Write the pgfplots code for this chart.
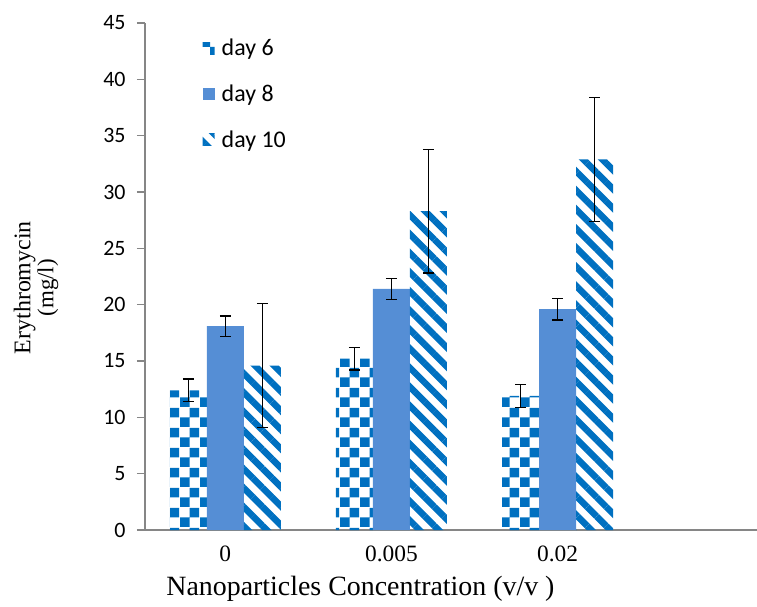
\documentclass[border=0pt]{standalone}
\usepackage{pgfplots}
\pgfplotsset{compat=1.18}
\usepackage{fontspec}
\setmainfont{Liberation Serif}
\newfontfamily\calibri{Carlito}
\usetikzlibrary{patterns,patterns.meta}
\definecolor{patblue}{RGB}{0,112,192}
\definecolor{solidblue}{RGB}{85,142,213}
\definecolor{axgray}{RGB}{134,134,134}
\pgfdeclarepatternformonly{bigchecker}{\pgfpointorigin}{\pgfqpoint{20bp}{20bp}}{\pgfqpoint{20bp}{20bp}}{%
  \pgfpathrectangle{\pgfpointorigin}{\pgfqpoint{10bp}{10bp}}%
  \pgfpathrectangle{\pgfqpoint{10bp}{10bp}}{\pgfqpoint{10bp}{10bp}}%
  \pgfusepath{fill}}
\begin{document}
\begin{tikzpicture}
\useasboundingbox (-145bp,-77bp) rectangle (612bp,530bp);
\begin{axis}[
  at={(0,0)}, anchor=south west,
  scale only axis, width=612bp, height=507bp,
  ybar=0pt, bar width=37bp,
  xmin=-0.483, xmax=3.2, ymin=0, ymax=45,
  xtick={0,1,2}, xticklabels={0,0.005,0.02},
  ytick={0,5,...,45},
  axis x line*=bottom, axis y line*=left,
  axis line style={axgray, line width=1.2bp},
  x axis line style={-}, y axis line style={-},
  tick align=outside, major tick length=8bp,
  xtick style={draw=none},
  ytick style={axgray, line width=1.2bp},
  /pgf/number format/assume math mode=true,
  yticklabel style={font=\calibri\fontsize{22}{26}\selectfont, xshift=-8bp},
  xticklabel style={font=\fontsize{23.5}{26}\selectfont, yshift=-4bp},
  xlabel={Nanoparticles Concentration (v/v )},
  xlabel style={font=\fontsize{28}{32}\selectfont, at={(axis description cs:0.352,-0.116)}, anchor=center},
  ylabel={Erythromycin\\[-3bp]{\fontsize{23}{26}\selectfont(mg/l)}},
  ylabel style={font=\fontsize{24}{26}\selectfont, align=center, at={(axis description cs:-0.178,0.478)}, anchor=center},
  legend style={at={(axis description cs:0.094,0.972)}, anchor=north west, draw=none, fill=none,
    font=\calibri\fontsize{24}{28}\selectfont, row sep=23.5bp, inner sep=0pt,
    nodes={inner sep=2bp, anchor=west}},
  legend cell align=left,
  legend image code/.code={\path[#1] (0bp,-6bp) rectangle (12bp,6bp); \path (17bp,0bp);},
  error bars/y dir=both, error bars/y explicit,
  error bars/error bar style={black, line width=1.3bp},
  error bars/error mark options={rotate=90, black, mark size=5.5bp, line width=1.3bp},
]
\addplot[draw=none, pattern=bigchecker, pattern color=patblue] coordinates {
  (0,12.4) +- (0,1.0)
  (1,15.2) +- (0,1.0)
  (2,11.9) +- (0,1.0)
};
\addplot[draw=none, fill=solidblue] coordinates {
  (0,18.1) +- (0,0.9)
  (1,21.4) +- (0,0.95)
  (2,19.6) +- (0,0.95)
};
\addplot[draw=none, pattern={Lines[angle=-45,distance=13.5bp,line width=6.5bp]}, pattern color=patblue] coordinates {
  (0,14.6) +- (0,5.5)
  (1,28.3) +- (0,5.5)
  (2,32.9) +- (0,5.5)
};
\legend{day 6, day 8, day 10}
\end{axis}
\end{tikzpicture}
\end{document}
